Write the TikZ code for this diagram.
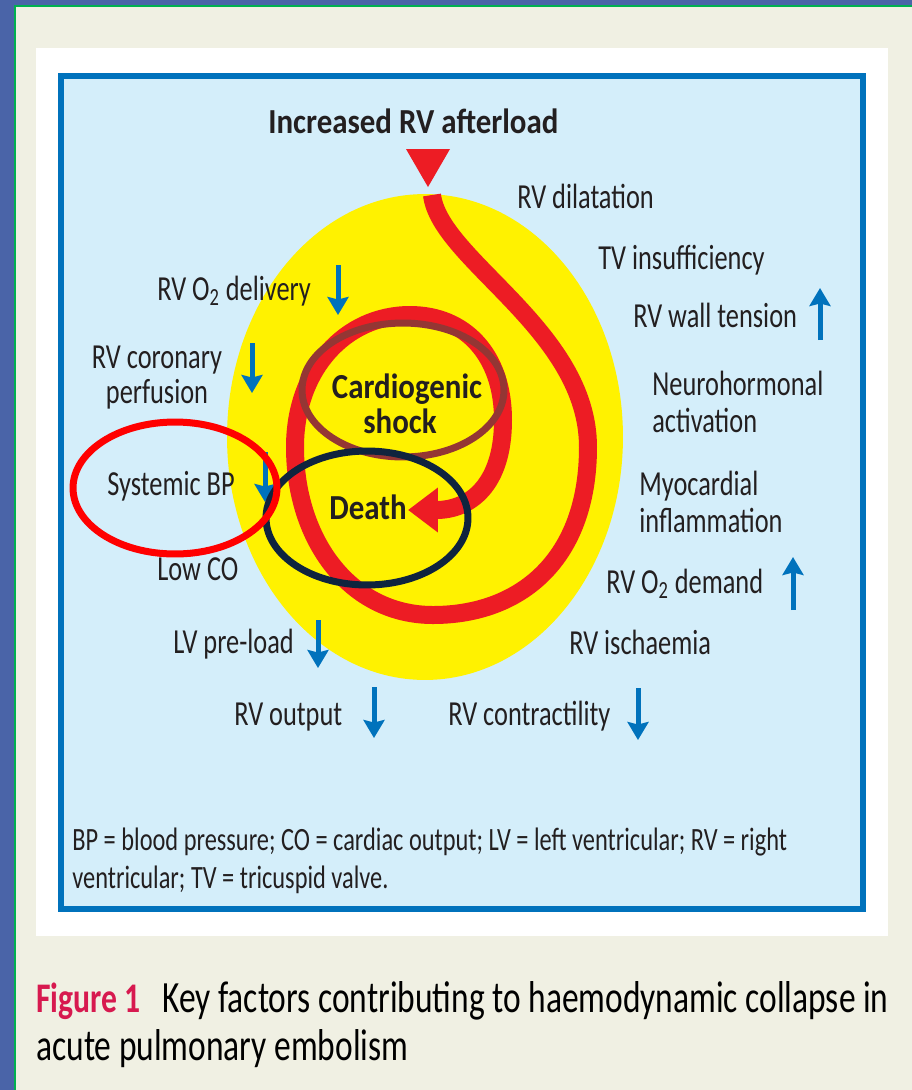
\documentclass[tikz,border=0pt]{standalone}
\usepackage{fontspec}
\setmainfont{Carlito}[FakeStretch=0.75, BoldFeatures={FakeStretch=0.88}]
\newfontfamily\figfont{Carlito}[FakeStretch=0.75]
\usetikzlibrary{arrows.meta}
\tikzset{>=latex}
\usepackage{xcolor}
\definecolor{slideblue}{HTML}{4A64A8}
\definecolor{slidegreen}{HTML}{00B050}
\definecolor{pagebeige}{HTML}{F0F0E3}
\definecolor{boxfill}{HTML}{D4EEFA}
\definecolor{boxline}{HTML}{0072BC}
\definecolor{discyellow}{HTML}{FFF200}
\definecolor{spiralred}{HTML}{ED1C24}
\definecolor{trendblue}{HTML}{0072BC}
\definecolor{inkdark}{HTML}{231F20}
\definecolor{figred}{HTML}{D7194F}
\definecolor{markred}{HTML}{FF0000}
\definecolor{markbrown}{HTML}{943634}
\definecolor{marknavy}{HTML}{0F243E}
\tikzset{
  factor/.style={anchor=base west, inner sep=0pt, text=inkdark, font=\fontsize{20}{24}\selectfont},
  headline/.style={factor, font=\bfseries\fontsize{20}{24}\selectfont},
  outcome/.style={anchor=base, inner sep=0pt, text=inkdark, font=\bfseries\fontsize{20}{24}\selectfont},
  note/.style={anchor=base west, inner sep=0pt, text=inkdark, font=\fontsize{18.5}{22}\selectfont},
  capt/.style={anchor=base west, inner sep=0pt, text=black, font=\fontsize{25.4}{30}\selectfont},
  trend/.style={trendblue, line width=0.1cm, -{Stealth[length=0.36cm,width=0.42cm,inset=0.05cm]}},
  ringmark/.style={line width=0.14cm},
}
\newcommand{\trendarrow}[3]{
   \coordinate (#1from) at (#2);
   \coordinate (#1to) at (#3);
   \draw[trend] (#1from) -- (#1to);
}

\begin{document}
\begin{tikzpicture}[x=0.02cm, y=-0.02cm]
		% Slide and page
		\useasboundingbox (0,0) rectangle (912,1090);
		\fill[slideblue] (0,0) rectangle (912,1090);
		\fill[pagebeige] (15,6) rectangle (912,1090);
		\draw[slidegreen, line width=0.05cm] (15,1090) -- (15,6) -- (912,6);
		\fill[white] (36,48) rectangle (888,936);
		\draw[boxline, fill=boxfill, line width=0.12cm] (61,76) rectangle (863,909);

		% Disc and spiral
		\fill[discyellow] (425,437) ellipse [x radius=3.96cm, y radius=4.86cm];
		\fill[spiralred] (406,149) -- (450,149) -- (428,187) -- cycle;
		\draw[spiralred, line width=0.36cm, -{Triangle[length=0.6cm,width=0.86cm]}]
		 (432,195) .. controls (440,260) and (588,330) .. (588,447)
		 .. controls (588,560) and (520,615) .. (433,615)
		 .. controls (350,615) and (295,540) .. (295,447)
		 .. controls (295,370) and (345,315) .. (410,315)
		 .. controls (465,315) and (503,355) .. (503,420)
		 .. controls (503,485) and (470,510) .. (408,510);

		% Labels
		\node[headline] (afterload) at (268,133) {Increased RV afterload};
		\node[outcome] (cardio) at (407,398) {Cardiogenic};
		\node[outcome] (shock) at (400,433) {shock};
		\node[outcome] (death) at (368,519) {Death};

		\node[factor] (dilat) at (517,208) {RV dilatation};
		\node[factor] (tvins) at (598,269) {TV insufficiency};
		\node[factor] (wall) at (633,327) {RV wall tension};
		\node[factor] (neuro) at (652,395) {Neurohormonal};
		\node[factor] (activ) at (652,432) {activation};
		\node[factor] (myo) at (639,495) {Myocardial};
		\node[factor] (inflam) at (639,532) {inflammation};
		\node[factor] (demand) at (606,593) {RV O\textsubscript{2} demand};
		\node[factor] (isch) at (569,654) {RV ischaemia};
		\node[factor] (contr) at (448,725) {RV contractility};
		\node[factor] (output) at (234,725) {RV output};
		\node[factor] (preload) at (173,653) {LV pre-load};
		\node[factor] (lowco) at (157,580) {Low CO};
		\node[factor] (sysbp) at (107,495) {Systemic BP};
		\node[factor, anchor=base] (coron) at (157,368) {RV coronary};
		\node[factor, anchor=base] (perf) at (157,403) {perfusion};
		\node[factor] (deliv) at (157,300) {RV O\textsubscript{2} delivery};

		% Up and down
		\trendarrow{wall}{820,340}{820,288}
		\trendarrow{demand}{793,610}{793,557}
		\trendarrow{contr}{638,688}{638,740}
		\trendarrow{output}{374,687}{374,738}
		\trendarrow{preload}{318,620}{318,668}
		\trendarrow{sysbp}{265,452}{265,502}
		\trendarrow{coron}{252,343}{252,393}
		\trendarrow{deliv}{338,265}{338,315}

		% Rings
		\draw[ringmark, markbrown] (403,390) ellipse [x radius=2.02cm, y radius=1.34cm];
		\draw[ringmark, marknavy] (367,518) ellipse [x radius=2.02cm, y radius=1.34cm];
		\draw[ringmark, markred] (175,488) ellipse [x radius=2.04cm, y radius=1.32cm];

		% Key
		\node[note] (key1) at (72,850) {BP = blood pressure; CO = cardiac output; LV = left ventricular; RV = right};
		\node[note] (key2) at (72,888) {ventricular; TV = tricuspid valve.};

		% Caption
		\node[capt, text=figred, font=\figfont\bfseries\fontsize{24}{28}\selectfont] (fig) at (36,1012) {Figure 1};
		\node[capt] (capt1) at (162,1012) {Key factors contributing to haemodynamic collapse in};
		\node[capt] (capt2) at (36,1060) {acute pulmonary embolism};
	\end{tikzpicture}
\end{document}
